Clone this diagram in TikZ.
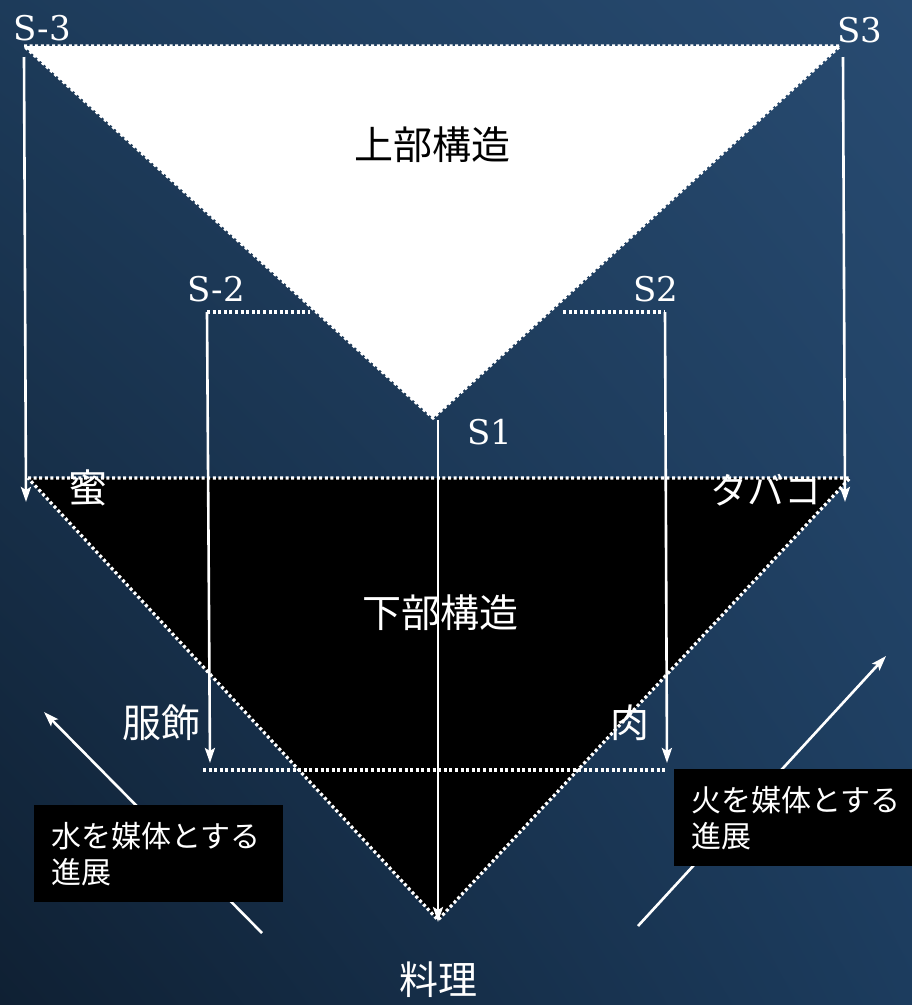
\documentclass[tikz,border=0pt]{standalone}
\usepackage{fontspec}
\newfontfamily\cjk{Noto Sans CJK JP}
\newfontfamily\slab{DejaVu Serif}
\usetikzlibrary{arrows.meta,shadings}
\definecolor{bgTL}{HTML}{1D3B5A}
\definecolor{bgTR}{HTML}{284B71}
\definecolor{bgBL}{HTML}{0F2033}
\definecolor{bgBR}{HTML}{1C3C5E}
\tikzset{
  dotline/.style={white, line width=3.2pt, dash pattern=on 3pt off 2.6pt},
  arr/.style={white, line width=2.6pt, -{Stealth[length=15pt,width=10pt,inset=3pt]}},
  slablab/.style={text=white, font=\slab\fontsize{34}{38}\selectfont, inner sep=0pt},
  cjklab/.style={text=white, font=\cjk\fontsize{39}{44}\selectfont, inner sep=0pt},
  boxst/.style={fill=black, text=white, font=\cjk\fontsize{30}{36}\selectfont, align=left,
    anchor=north west, inner xsep=17pt, text width=215pt, minimum height=97pt}
}
\begin{document}
\begin{tikzpicture}[x=1pt,y=-1pt]
\useasboundingbox (0,0) rectangle (912,1005);
\shade[upper left=bgTL, upper right=bgTR, lower left=bgBL, lower right=bgBR] (0,0) rectangle (912,1005);
% vertices
\coordinate (uL) at (24,46);
\coordinate (uR) at (840,46);
\coordinate (uB) at (433,418);
\coordinate (lL) at (28,478);
\coordinate (lR) at (850,478);
\coordinate (lB) at (438,920);
% upper triangle
\fill[white] (uL) -- (uR) -- (uB) -- cycle;
\draw[dotline] (uL) -- (uR) -- (uB) -- cycle;
% lower triangle
\fill[black] (lL) -- (lR) -- (lB) -- cycle;
\draw[dotline] (lL) -- (lR) -- (lB) -- cycle;
% S-2 / S2 levels
\coordinate (m2L) at (207,312);
\coordinate (m2Le) at (310,312);
\coordinate (m2R) at (665,312);
\coordinate (m2Re) at (563,312);
\draw[dotline] (m2L) -- (m2Le);
\draw[dotline] (m2Re) -- (m2R);
\coordinate (bL) at (203,770);
\coordinate (bR) at (665,770);
\draw[dotline] (bL) -- (bR);
% vertical arrows
\coordinate (a3Ls) at (24,57);
\coordinate (a3Le) at (26,502);
\coordinate (a3Rs) at (843,57);
\coordinate (a3Re) at (845,502);
\draw[arr] (a3Ls) -- (a3Le);
\draw[arr] (a3Rs) -- (a3Re);
\coordinate (a2Le) at (210,763);
\coordinate (a2Re) at (667,763);
\draw[arr] (m2L) -- (a2Le);
\draw[arr] (m2R) -- (a2Re);
\coordinate (a1s) at (438,420);
\coordinate (a1e) at (438,922);
\draw[arr] (a1s) -- (a1e);
% diagonal arrows
\coordinate (wS) at (262,933);
\coordinate (wE) at (44,712);
\coordinate (fS) at (638,926);
\coordinate (fE) at (886,656);
\draw[arr] (wS) -- (wE);
\draw[arr] (fS) -- (fE);
% boxes
\node[boxst] (wbox) at (34,805) {水を媒体とする\\進展};
\node[boxst] (fbox) at (674,769) {火を媒体とする\\進展};
% labels
\node[slablab] (Sm3) at (42,28) {S-3};
\node[slablab] (S3) at (860,30) {S3};
\node[slablab] (Sm2) at (216,289) {S-2};
\node[slablab] (S2) at (656,289) {S2};
\node[slablab] (S1) at (490,432) {S1};
\node[cjklab, text=black] (up) at (432,145) {上部構造};
\node[cjklab] (down) at (440,613) {下部構造};
\node[cjklab] (mitsu) at (88,488) {蜜};
\node[cjklab, font=\cjk\fontsize{37}{40}\selectfont] (tabako) at (766,490) {タバコ};
\node[cjklab] (fuku) at (161,723) {服飾};
\node[cjklab] (niku) at (630,723) {肉};
\node[cjklab] (ryouri) at (438,980) {料理};
\end{tikzpicture}
\end{document}
